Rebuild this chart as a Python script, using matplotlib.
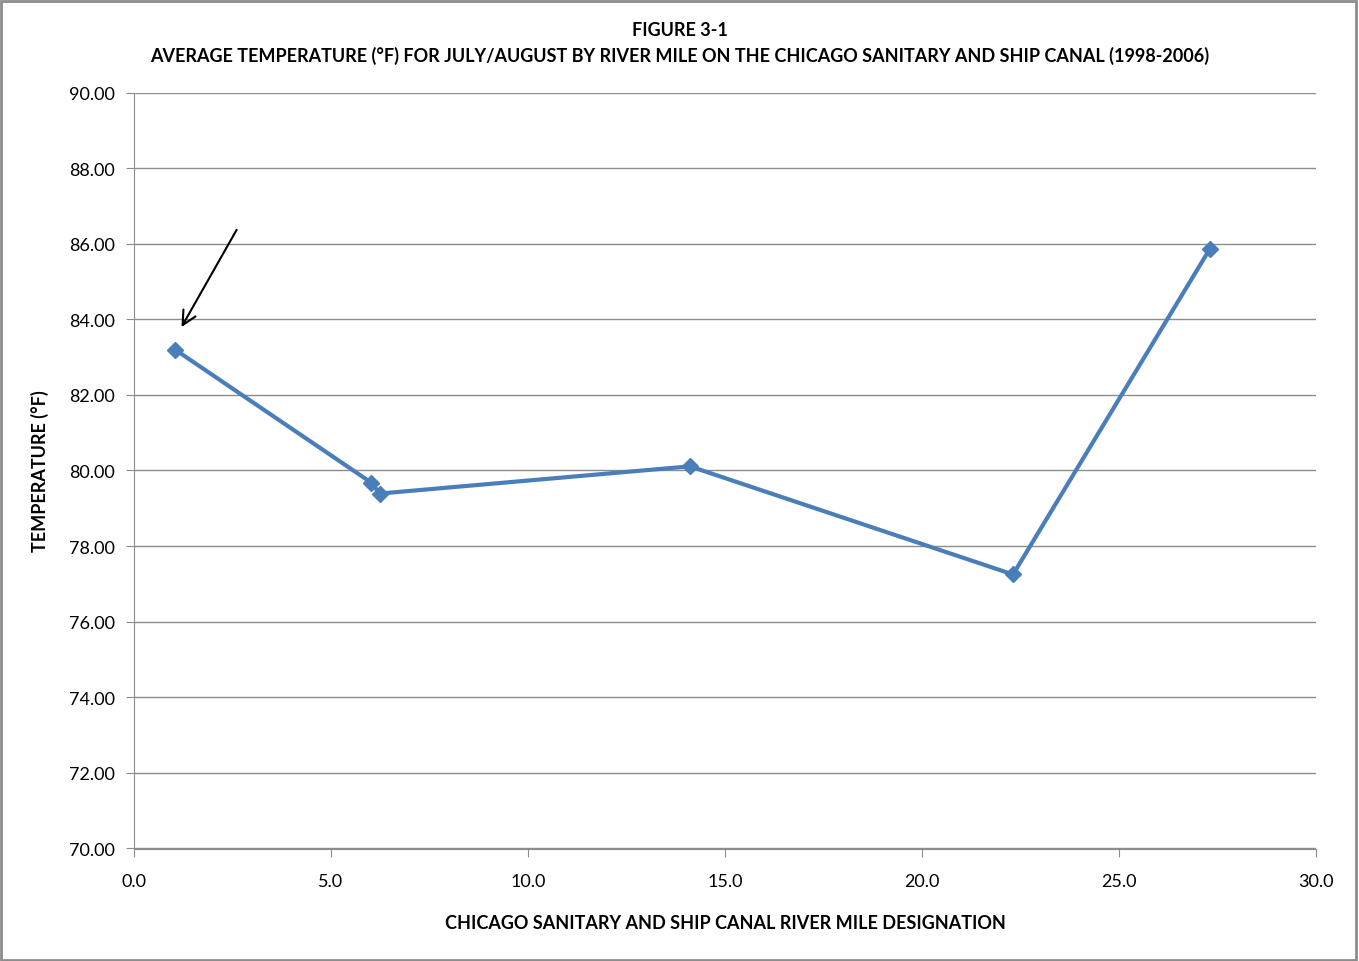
import matplotlib.pyplot as plt
from matplotlib.patches import Rectangle

river_mile = [1.04, 6.02, 6.24, 14.11, 22.31, 27.31]
avg_temp = [83.20, 79.68, 79.39, 80.11, 77.25, 85.87]

x_ticks = [0, 5, 10, 15, 20, 25, 30]
y_ticks = [70, 72, 74, 76, 78, 80, 82, 84, 86, 88, 90]

plt.rcParams['font.family'] = ['Lato', 'DejaVu Sans']

fig = plt.figure(figsize=(13.59, 9.62), dpi=100)
ax = fig.add_axes([134 / 1359, 112.5 / 962, 1182 / 1359, 756 / 962])

ax.plot(river_mile, avg_temp, color='#4a7ebb', linewidth=3, marker='D',
        markersize=8, markerfacecolor='#4a7ebb', markeredgecolor='#4a7ebb',
        zorder=3)

ax.annotate('', xy=(1.17, 83.73), xytext=(2.64, 86.43),
            arrowprops=dict(arrowstyle='->', color='black', lw=1.5,
                            mutation_scale=25))

ax.set_xlim(0, 30)
ax.set_ylim(70, 90)
ax.set_xticks(x_ticks)
ax.set_xticklabels([f"{t:.1f}" for t in x_ticks])
ax.set_yticks(y_ticks)
ax.set_yticklabels([f"{t:.2f}" for t in y_ticks])
ax.grid(axis='y', color='#8c8c8c', linewidth=1)
ax.set_axisbelow(True)

for side in ['top', 'right']:
    ax.spines[side].set_visible(False)
for side in ['left', 'bottom']:
    ax.spines[side].set_color('#8c8c8c')
ax.tick_params(axis='both', colors='#8c8c8c', labelcolor='black',
               labelsize=13, length=6, direction='out')
ax.tick_params(axis='x', pad=12)
ax.tick_params(axis='y', pad=8)

ax.set_xlabel('CHICAGO SANITARY AND SHIP CANAL RIVER MILE DESIGNATION',
              fontsize=13, fontweight='bold', labelpad=18)
ax.set_ylabel('TEMPERATURE (°F)', fontsize=13, fontweight='bold', labelpad=14)

fig.text(0.5, 1 - 31 / 962, 'FIGURE 3-1', ha='center', va='center',
         fontsize=13, fontweight='bold')
fig.text(0.5, 1 - 56 / 962,
         'AVERAGE TEMPERATURE (°F) FOR JULY/AUGUST BY RIVER MILE ON THE CHICAGO SANITARY AND SHIP CANAL (1998-2006)',
         ha='center', va='center', fontsize=13, fontweight='bold')

fig.patches.append(Rectangle((0.001, 0.001), 0.997, 0.997, transform=fig.transFigure,
                             fill=False, edgecolor='#8c8c8c', linewidth=2))

fig.savefig('out.png', dpi=100)
